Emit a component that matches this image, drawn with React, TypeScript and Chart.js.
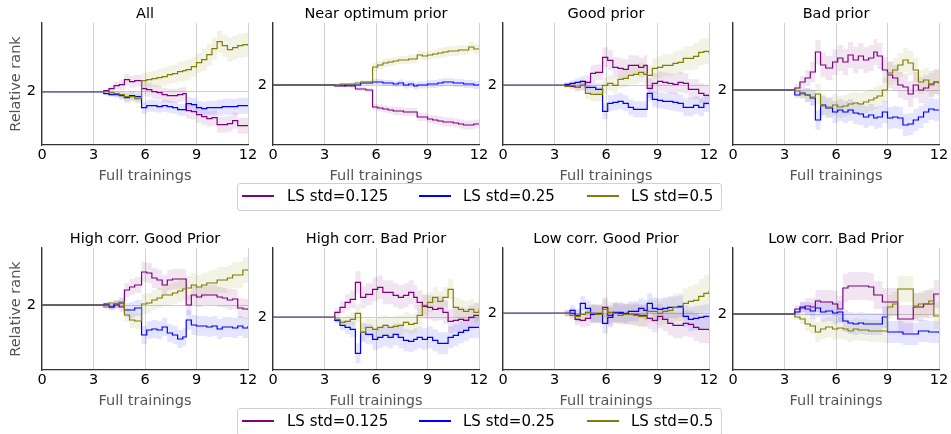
import React, { useEffect, useRef } from 'react';
import { Chart, registerables } from 'chart.js';

Chart.register(...registerables);

const FONT = '"DejaVu Sans", sans-serif';

// x positions of the step changes (full trainings)
const X_STEPS = [0, 3.6, 3.9, 4.2, 4.5, 4.8, 5.1, 5.4, 5.8, 6.1, 6.4, 6.7, 7.0, 7.3, 7.6, 7.9, 8.2, 8.4, 8.7, 9.0, 9.3, 9.6, 9.9, 10.2, 10.5, 10.8, 11.1, 11.4, 11.7, 12.0];
const X_MIN = 0;
const X_MAX = 12;
const X_STEP = 3;
const Y_TICK = 2;

const SERIES_LABELS = ['LS std=0.125', 'LS std=0.25', 'LS std=0.5'];
const SERIES_COLORS = ['#800080', '#0000ff', '#808000'];
const SERIES_FILLS = ['rgba(128,0,128,0.1)', 'rgba(0,0,255,0.1)', 'rgba(128,128,0,0.1)'];

const PANEL_TITLES = ['All', 'Near optimum prior', 'Good prior', 'Bad prior', 'High corr. Good Prior', 'High corr. Bad Prior', 'Low corr. Good Prior', 'Low corr. Bad Prior'];
const Y_MINS = [1.467, 1.40, 1.403, 1.45, 1.35, 1.473, 1.433, 1.44];
const Y_MAXS = [2.687, 2.62, 2.623, 2.67, 2.57, 2.693, 2.653, 2.66];

// ---- All ----
const P1_PURPLE = [2, 2.01, 2.03, 2.06, 2.07, 2.12, 2.10, 2.11, 2.03, 2.02, 2.00, 1.99, 1.97, 1.96, 1.96, 1.97, 1.98, 1.81, 1.80, 1.77, 1.75, 1.73, 1.74, 1.67, 1.67, 1.68, 1.71, 1.66, 1.66, 1.67];
const P1_PURPLE_STD = [0, 0.01, 0.03, 0.04, 0.05, 0.06, 0.06, 0.06, 0.07, 0.07, 0.07, 0.07, 0.07, 0.07, 0.07, 0.07, 0.07, 0.08, 0.08, 0.08, 0.08, 0.08, 0.08, 0.08, 0.08, 0.08, 0.08, 0.08, 0.08, 0.08];
const P1_BLUE = [2, 1.98, 1.97, 1.97, 1.96, 1.94, 1.96, 1.95, 1.84, 1.86, 1.86, 1.85, 1.86, 1.85, 1.84, 1.82, 1.82, 1.88, 1.87, 1.84, 1.83, 1.84, 1.84, 1.84, 1.85, 1.85, 1.85, 1.86, 1.86, 1.86];
const P1_BLUE_STD = [0, 0.01, 0.02, 0.03, 0.04, 0.05, 0.05, 0.05, 0.06, 0.06, 0.06, 0.06, 0.06, 0.06, 0.06, 0.06, 0.06, 0.07, 0.07, 0.07, 0.07, 0.07, 0.07, 0.08, 0.08, 0.08, 0.08, 0.08, 0.08, 0.08];
const P1_OLIVE = [2, 2.00, 1.99, 1.98, 1.97, 1.95, 1.95, 1.93, 2.11, 2.12, 2.13, 2.14, 2.15, 2.17, 2.18, 2.20, 2.21, 2.22, 2.25, 2.29, 2.32, 2.37, 2.43, 2.50, 2.46, 2.42, 2.44, 2.46, 2.47, 2.46];
const P1_OLIVE_STD = [0, 0.01, 0.02, 0.03, 0.04, 0.05, 0.05, 0.05, 0.08, 0.08, 0.08, 0.09, 0.09, 0.09, 0.09, 0.10, 0.10, 0.10, 0.10, 0.10, 0.11, 0.11, 0.11, 0.11, 0.11, 0.12, 0.12, 0.12, 0.12, 0.12];

// ---- Near optimum prior ----
const P2_PURPLE = [2, 2.00, 2.00, 1.99, 1.99, 1.96, 1.96, 1.95, 1.78, 1.77, 1.76, 1.75, 1.74, 1.74, 1.73, 1.73, 1.73, 1.68, 1.68, 1.66, 1.65, 1.64, 1.63, 1.63, 1.62, 1.61, 1.60, 1.60, 1.61, 1.61];
const P2_PURPLE_STD = [0, 0.005, 0.01, 0.01, 0.015, 0.02, 0.02, 0.02, 0.035, 0.035, 0.035, 0.035, 0.04, 0.04, 0.04, 0.04, 0.04, 0.04, 0.04, 0.04, 0.045, 0.045, 0.045, 0.045, 0.045, 0.045, 0.045, 0.045, 0.045, 0.045];
const P2_BLUE = [2, 1.99, 1.99, 2.00, 2.00, 2.00, 2.02, 2.02, 2.03, 2.03, 2.02, 2.02, 2.01, 2.02, 2.00, 2.01, 1.99, 2.00, 2.00, 2.01, 2.01, 2.02, 2.03, 2.03, 2.02, 2.02, 2.01, 2.01, 2.00, 2.01];
const P2_BLUE_STD = [0, 0.005, 0.01, 0.01, 0.015, 0.02, 0.02, 0.02, 0.03, 0.03, 0.03, 0.03, 0.03, 0.035, 0.035, 0.035, 0.035, 0.035, 0.035, 0.04, 0.04, 0.04, 0.04, 0.04, 0.04, 0.04, 0.04, 0.04, 0.04, 0.04];
const P2_OLIVE = [2, 2.00, 2.01, 2.01, 2.01, 2.02, 2.03, 2.03, 2.18, 2.20, 2.22, 2.23, 2.24, 2.25, 2.25, 2.26, 2.26, 2.30, 2.29, 2.30, 2.31, 2.32, 2.33, 2.34, 2.34, 2.35, 2.35, 2.38, 2.36, 2.36];
const P2_OLIVE_STD = [0, 0.005, 0.01, 0.01, 0.015, 0.02, 0.02, 0.02, 0.04, 0.04, 0.04, 0.04, 0.04, 0.04, 0.04, 0.045, 0.045, 0.045, 0.045, 0.045, 0.045, 0.05, 0.05, 0.05, 0.05, 0.05, 0.05, 0.05, 0.05, 0.05];

// ---- Good prior ----
const P3_PURPLE = [2, 2.00, 1.99, 1.98, 2.00, 2.03, 2.12, 2.13, 2.28, 2.25, 2.18, 2.17, 2.16, 2.20, 2.20, 2.18, 2.20, 1.97, 2.02, 2.04, 2.03, 2.02, 2.01, 2.03, 2.02, 1.96, 1.96, 1.92, 1.90, 1.89];
const P3_PURPLE_STD = [0, 0.02, 0.03, 0.04, 0.05, 0.07, 0.08, 0.08, 0.10, 0.10, 0.10, 0.10, 0.10, 0.10, 0.10, 0.10, 0.10, 0.10, 0.10, 0.10, 0.10, 0.10, 0.10, 0.10, 0.10, 0.10, 0.10, 0.10, 0.10, 0.10];
const P3_BLUE = [2, 2.01, 2.02, 2.03, 2.04, 1.98, 1.98, 1.96, 1.74, 1.82, 1.83, 1.84, 1.82, 1.78, 1.76, 1.76, 1.76, 1.92, 1.86, 1.85, 1.84, 1.84, 1.83, 1.82, 1.78, 1.78, 1.80, 1.78, 1.82, 1.82];
const P3_BLUE_STD = [0, 0.02, 0.03, 0.04, 0.05, 0.06, 0.06, 0.06, 0.08, 0.08, 0.08, 0.08, 0.08, 0.08, 0.08, 0.08, 0.08, 0.08, 0.08, 0.08, 0.08, 0.09, 0.09, 0.09, 0.09, 0.09, 0.09, 0.09, 0.09, 0.09];
const P3_OLIVE = [2, 1.99, 2.00, 1.98, 2.00, 1.92, 1.91, 1.91, 2.00, 2.02, 2.00, 2.06, 2.07, 2.10, 2.11, 2.13, 2.11, 2.10, 2.17, 2.18, 2.20, 2.20, 2.22, 2.23, 2.27, 2.27, 2.29, 2.33, 2.34, 2.32];
const P3_OLIVE_STD = [0, 0.02, 0.03, 0.04, 0.05, 0.06, 0.07, 0.07, 0.08, 0.08, 0.08, 0.09, 0.09, 0.09, 0.10, 0.10, 0.10, 0.10, 0.10, 0.11, 0.11, 0.11, 0.12, 0.12, 0.12, 0.12, 0.13, 0.13, 0.13, 0.13];

// ---- Bad prior ----
const P4_PURPLE = [2, 2.02, 2.08, 2.12, 2.18, 2.38, 2.25, 2.22, 2.28, 2.32, 2.28, 2.35, 2.30, 2.34, 2.30, 2.32, 2.38, 2.34, 2.20, 2.15, 2.12, 2.05, 2.03, 1.96, 2.05, 2.00, 2.02, 2.06, 2.08, 2.08];
const P4_PURPLE_STD = [0, 0.04, 0.06, 0.08, 0.10, 0.12, 0.12, 0.12, 0.13, 0.13, 0.13, 0.13, 0.13, 0.13, 0.13, 0.13, 0.13, 0.13, 0.13, 0.13, 0.13, 0.13, 0.13, 0.13, 0.13, 0.13, 0.13, 0.13, 0.13, 0.13];
const P4_BLUE = [2, 1.95, 1.97, 1.95, 1.92, 1.70, 1.85, 1.82, 1.78, 1.80, 1.78, 1.80, 1.77, 1.76, 1.73, 1.75, 1.72, 1.73, 1.78, 1.72, 1.73, 1.72, 1.65, 1.66, 1.70, 1.73, 1.78, 1.81, 1.80, 1.80];
const P4_BLUE_STD = [0, 0.03, 0.05, 0.07, 0.08, 0.10, 0.10, 0.10, 0.11, 0.11, 0.11, 0.11, 0.11, 0.11, 0.11, 0.11, 0.11, 0.11, 0.11, 0.11, 0.11, 0.11, 0.11, 0.11, 0.11, 0.11, 0.11, 0.11, 0.11, 0.11];
const P4_OLIVE = [2, 1.99, 1.96, 1.95, 1.93, 1.96, 1.84, 1.83, 1.85, 1.83, 1.84, 1.86, 1.87, 1.86, 1.88, 1.90, 1.92, 1.94, 2.00, 2.17, 2.20, 2.25, 2.30, 2.27, 2.20, 2.08, 2.10, 2.05, 2.08, 2.06];
const P4_OLIVE_STD = [0, 0.03, 0.05, 0.07, 0.08, 0.10, 0.10, 0.10, 0.11, 0.11, 0.11, 0.11, 0.11, 0.11, 0.11, 0.11, 0.11, 0.11, 0.12, 0.12, 0.12, 0.12, 0.12, 0.12, 0.12, 0.12, 0.12, 0.12, 0.12, 0.12];

// ---- High corr. Good Prior ----
const P5_PURPLE = [2, 2.00, 1.98, 2.00, 1.98, 2.15, 2.18, 2.20, 2.33, 2.32, 2.27, 2.25, 2.20, 2.25, 2.26, 2.26, 2.26, 2.00, 2.10, 2.08, 2.10, 2.10, 2.10, 2.08, 2.07, 2.05, 2.06, 1.97, 1.96, 1.95];
const P5_PURPLE_STD = [0, 0.02, 0.03, 0.04, 0.05, 0.07, 0.08, 0.08, 0.10, 0.10, 0.10, 0.10, 0.10, 0.10, 0.10, 0.10, 0.10, 0.10, 0.10, 0.10, 0.10, 0.10, 0.10, 0.10, 0.10, 0.10, 0.10, 0.10, 0.10, 0.10];
const P5_BLUE = [2, 2.01, 1.98, 2.01, 2.02, 1.95, 1.95, 1.97, 1.70, 1.75, 1.76, 1.75, 1.78, 1.72, 1.70, 1.66, 1.68, 1.85, 1.80, 1.79, 1.79, 1.78, 1.79, 1.76, 1.78, 1.78, 1.77, 1.79, 1.77, 1.79];
const P5_BLUE_STD = [0, 0.02, 0.03, 0.04, 0.05, 0.07, 0.08, 0.08, 0.09, 0.09, 0.09, 0.09, 0.09, 0.09, 0.09, 0.09, 0.09, 0.10, 0.10, 0.10, 0.10, 0.10, 0.10, 0.10, 0.10, 0.10, 0.10, 0.10, 0.10, 0.10];
const P5_OLIVE = [2, 1.98, 2.02, 2.01, 2.03, 1.90, 1.85, 1.84, 2.01, 2.02, 2.05, 2.07, 2.10, 2.10, 2.12, 2.14, 2.16, 2.17, 2.20, 2.18, 2.20, 2.22, 2.22, 2.25, 2.25, 2.27, 2.30, 2.30, 2.35, 2.34];
const P5_OLIVE_STD = [0, 0.02, 0.03, 0.04, 0.05, 0.07, 0.08, 0.08, 0.10, 0.10, 0.10, 0.10, 0.11, 0.11, 0.11, 0.11, 0.11, 0.12, 0.12, 0.12, 0.12, 0.12, 0.13, 0.13, 0.13, 0.13, 0.13, 0.13, 0.13, 0.13];

// ---- High corr. Bad Prior ----
const P6_PURPLE = [2, 2.05, 2.10, 2.15, 2.18, 2.35, 2.20, 2.23, 2.28, 2.30, 2.25, 2.25, 2.22, 2.20, 2.22, 2.25, 2.20, 2.15, 2.11, 2.10, 2.08, 2.09, 2.05, 1.96, 1.97, 1.98, 1.97, 2.00, 2.02, 2.02];
const P6_PURPLE_STD = [0, 0.04, 0.06, 0.08, 0.09, 0.11, 0.11, 0.11, 0.12, 0.12, 0.12, 0.12, 0.12, 0.12, 0.12, 0.12, 0.12, 0.12, 0.12, 0.12, 0.12, 0.12, 0.12, 0.12, 0.12, 0.12, 0.12, 0.12, 0.12, 0.12];
const P6_BLUE = [2, 1.97, 1.92, 1.90, 1.88, 1.64, 1.85, 1.83, 1.78, 1.80, 1.82, 1.80, 1.83, 1.80, 1.77, 1.76, 1.78, 1.80, 1.78, 1.80, 1.77, 1.74, 1.74, 1.80, 1.82, 1.85, 1.87, 1.90, 1.90, 1.90];
const P6_BLUE_STD = [0, 0.03, 0.05, 0.07, 0.08, 0.10, 0.10, 0.10, 0.11, 0.11, 0.11, 0.11, 0.11, 0.11, 0.11, 0.11, 0.11, 0.11, 0.11, 0.11, 0.11, 0.11, 0.11, 0.11, 0.11, 0.11, 0.11, 0.11, 0.11, 0.11];
const P6_OLIVE = [2, 1.98, 1.95, 1.96, 1.98, 2.04, 1.85, 1.90, 1.88, 1.90, 1.92, 1.90, 1.91, 1.92, 1.95, 1.93, 1.94, 2.02, 2.12, 2.15, 2.20, 2.16, 2.20, 2.28, 2.10, 2.08, 2.06, 2.08, 2.05, 2.08];
const P6_OLIVE_STD = [0, 0.03, 0.05, 0.06, 0.07, 0.09, 0.09, 0.09, 0.10, 0.10, 0.10, 0.10, 0.10, 0.10, 0.10, 0.10, 0.10, 0.10, 0.10, 0.10, 0.10, 0.10, 0.10, 0.10, 0.10, 0.10, 0.10, 0.10, 0.10, 0.10];

// ---- Low corr. Good Prior ----
const P7_PURPLE = [2, 2.00, 2.00, 1.94, 1.93, 1.95, 2.00, 2.00, 2.06, 1.98, 2.00, 2.00, 1.99, 1.99, 1.99, 1.98, 1.98, 1.95, 1.93, 1.97, 1.94, 1.90, 1.88, 1.88, 1.90, 1.89, 1.86, 1.84, 1.84, 1.83];
const P7_PURPLE_STD = [0, 0.03, 0.05, 0.06, 0.07, 0.08, 0.09, 0.09, 0.10, 0.10, 0.10, 0.10, 0.10, 0.10, 0.11, 0.11, 0.11, 0.11, 0.12, 0.12, 0.12, 0.12, 0.13, 0.13, 0.13, 0.13, 0.14, 0.14, 0.14, 0.14];
const P7_BLUE = [2, 2.00, 2.03, 1.98, 2.10, 2.05, 1.99, 1.99, 1.90, 1.96, 2.01, 2.01, 2.00, 2.02, 2.02, 2.05, 2.03, 2.10, 2.05, 2.04, 2.05, 2.06, 2.06, 2.07, 1.97, 1.94, 1.95, 1.96, 1.97, 1.97];
const P7_BLUE_STD = [0, 0.03, 0.05, 0.06, 0.07, 0.08, 0.09, 0.09, 0.10, 0.10, 0.10, 0.10, 0.10, 0.10, 0.10, 0.10, 0.10, 0.10, 0.11, 0.11, 0.11, 0.11, 0.11, 0.11, 0.11, 0.12, 0.12, 0.12, 0.12, 0.12];
const P7_OLIVE = [2, 2.00, 1.98, 1.97, 1.99, 2.01, 2.00, 1.99, 2.04, 2.01, 2.00, 1.98, 1.99, 1.99, 1.98, 1.97, 1.97, 2.02, 2.02, 2.00, 2.02, 2.03, 2.06, 2.06, 2.10, 2.12, 2.13, 2.17, 2.20, 2.22];
const P7_OLIVE_STD = [0, 0.03, 0.05, 0.06, 0.07, 0.08, 0.09, 0.09, 0.10, 0.10, 0.10, 0.10, 0.10, 0.11, 0.11, 0.11, 0.11, 0.12, 0.12, 0.12, 0.13, 0.13, 0.14, 0.14, 0.15, 0.15, 0.16, 0.17, 0.18, 0.18];

// ---- Low corr. Bad Prior ----
const P8_PURPLE = [2, 2.05, 2.06, 2.08, 2.07, 2.13, 2.12, 2.12, 2.10, 2.05, 2.26, 2.28, 2.28, 2.28, 2.28, 2.27, 2.19, 2.19, 2.12, 2.12, 2.12, 1.95, 1.95, 1.95, 2.07, 2.07, 2.10, 2.10, 2.20, 2.20];
const P8_PURPLE_STD = [0, 0.04, 0.06, 0.08, 0.09, 0.11, 0.12, 0.12, 0.13, 0.13, 0.14, 0.14, 0.14, 0.14, 0.14, 0.14, 0.14, 0.14, 0.14, 0.14, 0.14, 0.14, 0.14, 0.14, 0.14, 0.14, 0.14, 0.14, 0.14, 0.14];
const P8_BLUE = [2, 2.02, 2.07, 2.05, 2.03, 2.06, 2.02, 2.03, 2.01, 2.02, 1.93, 1.91, 1.90, 1.91, 1.90, 1.90, 1.90, 1.90, 1.97, 1.82, 1.82, 1.82, 1.80, 1.80, 1.80, 1.83, 1.83, 1.82, 1.82, 1.81];
const P8_BLUE_STD = [0, 0.03, 0.05, 0.07, 0.08, 0.09, 0.10, 0.10, 0.11, 0.11, 0.11, 0.11, 0.11, 0.11, 0.11, 0.11, 0.11, 0.11, 0.11, 0.11, 0.11, 0.11, 0.11, 0.11, 0.11, 0.11, 0.11, 0.11, 0.11, 0.11];
const P8_OLIVE = [2, 1.97, 1.95, 1.90, 1.88, 1.82, 1.85, 1.87, 1.85, 1.86, 1.85, 1.83, 1.85, 1.84, 1.84, 1.83, 1.83, 1.83, 1.83, 2.07, 2.10, 2.25, 2.25, 2.25, 2.08, 2.10, 2.10, 2.13, 1.98, 1.98];
const P8_OLIVE_STD = [0, 0.03, 0.05, 0.07, 0.08, 0.10, 0.10, 0.10, 0.11, 0.11, 0.11, 0.11, 0.11, 0.11, 0.11, 0.11, 0.11, 0.11, 0.12, 0.12, 0.12, 0.13, 0.13, 0.13, 0.13, 0.13, 0.13, 0.13, 0.13, 0.13];

const MEANS = [
  [P1_PURPLE, P1_BLUE, P1_OLIVE],
  [P2_PURPLE, P2_BLUE, P2_OLIVE],
  [P3_PURPLE, P3_BLUE, P3_OLIVE],
  [P4_PURPLE, P4_BLUE, P4_OLIVE],
  [P5_PURPLE, P5_BLUE, P5_OLIVE],
  [P6_PURPLE, P6_BLUE, P6_OLIVE],
  [P7_PURPLE, P7_BLUE, P7_OLIVE],
  [P8_PURPLE, P8_BLUE, P8_OLIVE],
];
const STDS = [
  [P1_PURPLE_STD, P1_BLUE_STD, P1_OLIVE_STD],
  [P2_PURPLE_STD, P2_BLUE_STD, P2_OLIVE_STD],
  [P3_PURPLE_STD, P3_BLUE_STD, P3_OLIVE_STD],
  [P4_PURPLE_STD, P4_BLUE_STD, P4_OLIVE_STD],
  [P5_PURPLE_STD, P5_BLUE_STD, P5_OLIVE_STD],
  [P6_PURPLE_STD, P6_BLUE_STD, P6_OLIVE_STD],
  [P7_PURPLE_STD, P7_BLUE_STD, P7_OLIVE_STD],
  [P8_PURPLE_STD, P8_BLUE_STD, P8_OLIVE_STD],
];

// layout (pixels)
const PLOT_LEFTS = [42, 273, 503, 733];
const ROW_TOPS = [23, 248];
const AXIS_W = 42;
const TITLE_H = 23;
const PLOT_H = 122;
const XAXIS_H = 40;
const PAD_RIGHT = 12;
const PLOT_W = 206;
const CANVAS_W = AXIS_W + PLOT_W + PAD_RIGHT;
const CANVAS_H = TITLE_H + PLOT_H + XAXIS_H;
const TEXT_SIZE = 14.5;
const TITLE_PAD_TOP = 5.8;

function Panel({ index }: { index: number }) {
  const ref = useRef<HTMLCanvasElement>(null);
  useEffect(() => {
    const means = MEANS[index];
    const stds = STDS[index];
    const drawOrder = [2, 1, 0];
    const lines = drawOrder.map((k) => ({
      data: X_STEPS.map((x, i) => ({ x, y: means[k][i] })),
      borderColor: SERIES_COLORS[k],
      borderWidth: 1.2,
      pointRadius: 0,
      stepped: true,
      fill: false,
    }));
    const bands = drawOrder.flatMap((k) => [
      {
        data: X_STEPS.map((x, i) => ({ x, y: means[k][i] + stds[k][i] })),
        borderColor: 'rgba(0,0,0,0)',
        borderWidth: 0,
        pointRadius: 0,
        stepped: true,
        fill: '+1',
        backgroundColor: SERIES_FILLS[k],
      },
      {
        data: X_STEPS.map((x, i) => ({ x, y: means[k][i] - stds[k][i] })),
        borderColor: 'rgba(0,0,0,0)',
        borderWidth: 0,
        pointRadius: 0,
        stepped: true,
        fill: false,
      },
    ]);
    const showYTitle = index % 4 === 0;
    const font = { family: FONT, size: TEXT_SIZE };
    const chart = new Chart(ref.current as HTMLCanvasElement, {
      type: 'line',
      data: { datasets: [...lines, ...bands] as any },
      options: {
        responsive: false,
        animation: false,
        events: [],
        layout: { padding: { top: 0, right: PAD_RIGHT, bottom: 0, left: 0 } },
        plugins: {
          legend: { display: false },
          tooltip: { enabled: false },
          title: {
            display: true,
            text: PANEL_TITLES[index],
            fullSize: false,
            color: '#000',
            font: { family: FONT, size: TEXT_SIZE, weight: 'normal' as any, lineHeight: 1.2 },
            padding: { top: TITLE_PAD_TOP, bottom: TITLE_H - TITLE_PAD_TOP - TEXT_SIZE * 1.2 },
          },
        },
        scales: {
          x: {
            type: 'linear',
            min: X_MIN,
            max: X_MAX,
            ticks: { stepSize: X_STEP, padding: 2, color: '#000', font, maxRotation: 0, autoSkip: false },
            grid: { color: '#d0d0d0', lineWidth: 1, drawTicks: false },
            border: { color: '#333', width: 1.25 },
            title: { display: true, text: 'Full trainings', color: '#555', font, padding: { top: 4, bottom: 0.3 } },
            afterFit: (s: any) => { s.height = XAXIS_H; },
          },
          y: {
            type: 'linear',
            min: Y_MINS[index],
            max: Y_MAXS[index],
            afterBuildTicks: (s: any) => { s.ticks = [{ value: Y_TICK }]; },
            ticks: { padding: 6, color: '#000', font, callback: (v: any) => String(v) },
            grid: { color: '#d0d0d0', lineWidth: 1, drawTicks: false },
            border: { color: '#333', width: 1.25 },
            title: { display: showYTitle, text: 'Relative rank', color: '#555', font, padding: { top: 7.3, bottom: 0 } },
            afterFit: (s: any) => { s.width = AXIS_W; },
          },
        },
      } as any,
    });
    return () => chart.destroy();
  }, [index]);
  const col = index % 4;
  const row = Math.floor(index / 4);
  return (
    <div style={{ position: 'absolute', left: PLOT_LEFTS[col] - AXIS_W, top: ROW_TOPS[row] - TITLE_H, width: CANVAS_W, height: CANVAS_H }}>
      <canvas ref={ref} width={CANVAS_W} height={CANVAS_H} style={{ display: 'block' }} />
    </div>
  );
}

const LEGEND_LINE_LEFTS = [4, 181, 349];
const LEGEND_TEXT_LEFTS = [49, 225, 393];

function Legend({ top }: { top: number }) {
  return (
    <div style={{ position: 'absolute', left: 237, top, width: 485, height: 28, boxSizing: 'border-box', border: '1px solid #d0d0d0', borderRadius: 3, background: 'rgba(255,255,255,0.8)', fontFamily: FONT, fontSize: 15, color: '#000' }}>
      {SERIES_LABELS.map((lab, i) => (
        <React.Fragment key={lab}>
          <div style={{ position: 'absolute', left: LEGEND_LINE_LEFTS[i], top: 11, width: 32, height: 0, borderTop: `2px solid ${SERIES_COLORS[i]}` }} />
          <span style={{ position: 'absolute', left: LEGEND_TEXT_LEFTS[i], top: 4, lineHeight: '17px', whiteSpace: 'nowrap' }}>{lab}</span>
        </React.Fragment>
      ))}
    </div>
  );
}

export default function App() {
  return (
    <div style={{ position: 'fixed', left: 0, top: 0, width: 951, height: 434, overflow: 'hidden', background: '#fff' }}>
      {PANEL_TITLES.map((_, i) => <Panel key={i} index={i} />)}
      <Legend top={183} />
      <Legend top={408} />
    </div>
  );
}
